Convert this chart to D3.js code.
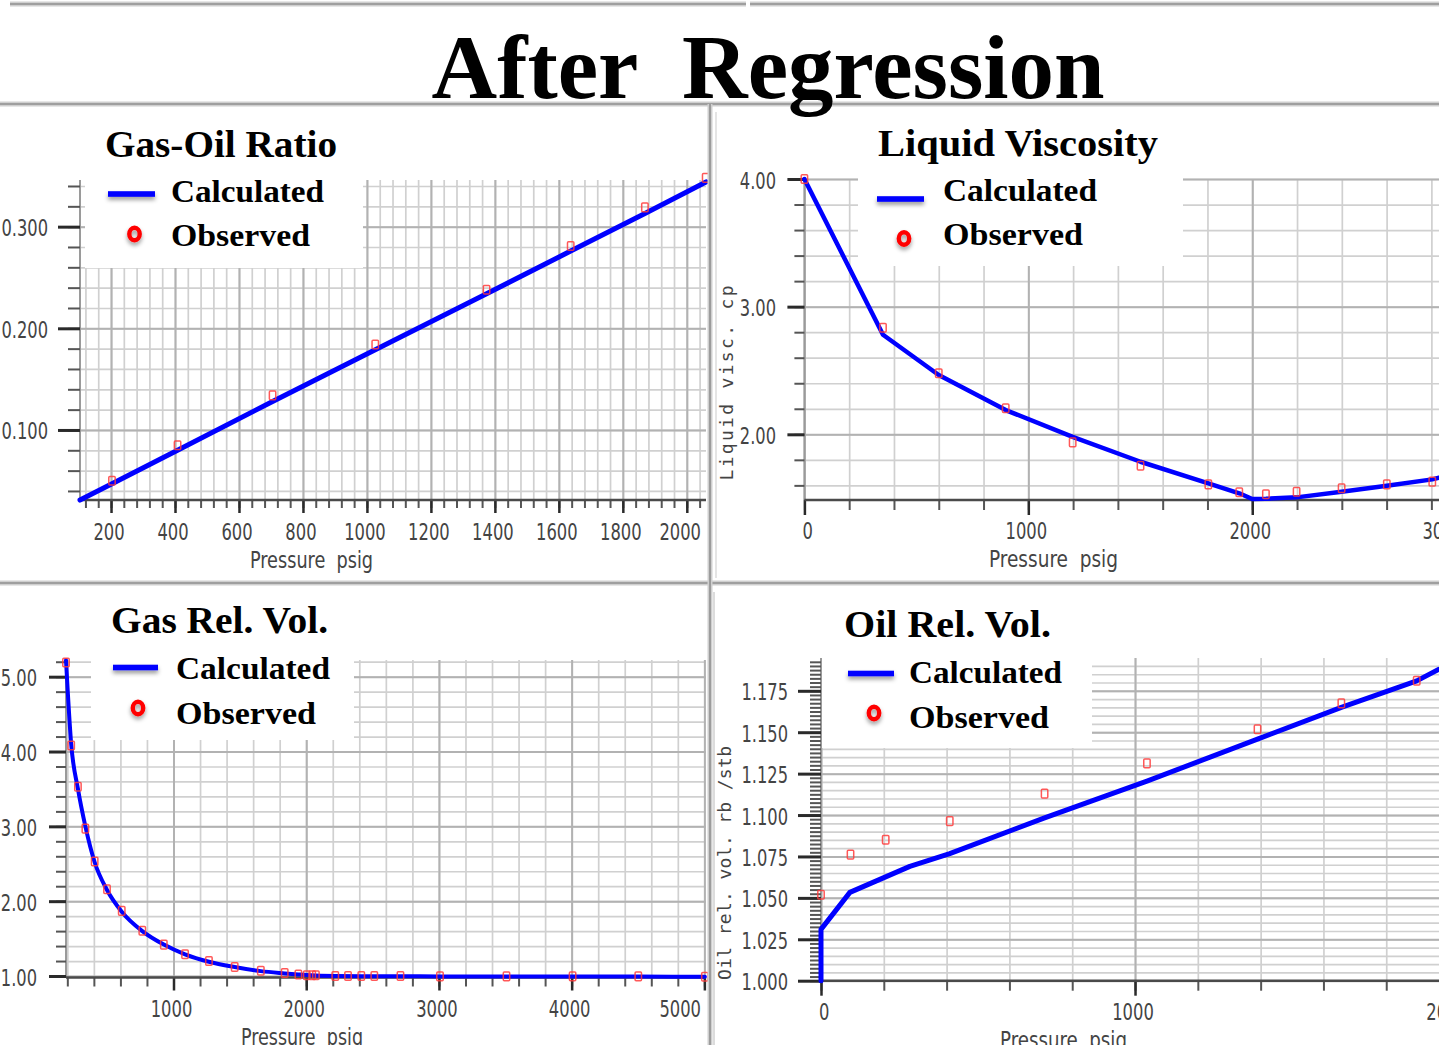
<!DOCTYPE html>
<html>
<head>
<meta charset="utf-8">
<script src="https://cdn.jsdelivr.net/npm/d3@7"></script>
<style>
  html, body { margin: 0; padding: 0; background: #fff; }
  svg { display: block; }
</style>
</head>
<body>
<svg id="chart" width="1439" height="1045"></svg>
<script>
// ---------- Gas-oil ratio vs pressure ----------
const gorObsPressure  = [203, 408, 705, 1026, 1374, 1637, 1869, 2059];
const gorObserved     = [0.050, 0.085, 0.134, 0.184, 0.238, 0.281, 0.319, 0.348];
const gorCalcPressure = [103, 203, 408, 705, 1026, 1374, 1637, 1869, 2060];
const gorCalculated   = [0.031, 0.047, 0.080, 0.128, 0.179, 0.234, 0.276, 0.313, 0.344];
const gorXTicks = [200, 400, 600, 800, 1000, 1200, 1400, 1600, 1800, 2000];
const gorYTicks = [0.1, 0.2, 0.3];

// ---------- Liquid viscosity vs pressure ----------
const viscObsPressure  = [0, 351, 600, 899, 1198, 1501, 1804, 1942, 2061, 2198, 2399, 2601, 2804];
const viscObserved     = [4.00, 2.835, 2.478, 2.204, 1.937, 1.754, 1.608, 1.546, 1.530, 1.550, 1.577, 1.608, 1.629];
const viscCalcPressure = [0, 351, 600, 899, 1198, 1501, 1804, 1942, 2000, 2061, 2198, 2399, 2601, 2804, 2834];
const viscCalculated   = [4.00, 2.78, 2.465, 2.19, 1.98, 1.785, 1.616, 1.538, 1.493, 1.495, 1.506, 1.55, 1.597, 1.647, 1.66];
const viscXTicks = [0, 1000, 2000, 3000];
const viscYTicks = [2, 3, 4];

// ---------- Gas relative volume vs pressure ----------
const gasObsPressure = [190, 229, 280, 336, 406, 499, 610, 765, 927, 1087, 1267, 1461, 1658, 1838, 1941, 2004, 2045, 2073, 2219, 2315, 2415, 2513, 2710, 3008, 3509, 4007, 4502, 5004];
const gasObserved    = [5.19, 4.08, 3.53, 2.97, 2.53, 2.16, 1.87, 1.605, 1.42, 1.29, 1.20, 1.12, 1.07, 1.04, 1.02, 1.01, 1.01, 1.01, 1.00, 1.00, 1.00, 1.00, 1.00, 0.995, 0.995, 0.995, 0.995, 0.99];
const gasCalcPressure = [190, 229, 280, 336, 406, 499, 610, 765, 927, 1087, 1267, 1461, 1658, 1838, 1941, 2004, 2073, 2219, 2415, 2710, 3008, 3509, 4007, 4502, 5004];
const gasCalculated   = [5.22, 4.10, 3.50, 3.00, 2.52, 2.15, 1.86, 1.60, 1.42, 1.29, 1.19, 1.12, 1.065, 1.035, 1.02, 1.012, 1.006, 1.0, 0.998, 0.996, 0.995, 0.994, 0.993, 0.992, 0.99];
const gasXTicks = [1000, 2000, 3000, 4000, 5000];
const gasYTicks = [1, 2, 3, 4, 5];

// ---------- Oil relative volume vs pressure ----------
const oilObsPressure  = [0, 94, 206, 410, 712, 1038, 1390, 1657, 1897];
const oilObserved     = [1.0519, 1.0761, 1.0851, 1.0963, 1.1129, 1.1312, 1.1518, 1.1674, 1.1811];
const oilCalcPressure = [0, 0, 92, 283, 410, 712, 1038, 1390, 1657, 1897, 1968];
const oilCalculated   = [1.000, 1.031, 1.0533, 1.069, 1.0767, 1.0983, 1.1205, 1.1458, 1.165, 1.181, 1.188];
const oilXTicks = [0, 1000, 2000];
const oilYTicks = [1.000, 1.025, 1.050, 1.075, 1.100, 1.125, 1.150, 1.175];

const legendLabels = ["Calculated", "Observed"];

// ---------- drawing ----------
const W = 1439, H = 1045;
const svg = d3.select("#chart");
const serif  = '"Liberation Serif", "Times New Roman", serif';
const narrow = '"DejaVu Sans Condensed", "DejaVu Sans", sans-serif';
const mono   = '"DejaVu Sans Mono", "Liberation Mono", monospace';
const axisInk = "#4a4a4a";

// width of a tick label in the condensed axis face
const labelWidth = s => [...s].reduce((w, c) => w + (c === "." ? 5 : 10.4), 0);

const defs = svg.append("defs");
const shadow = defs.append("filter").attr("id", "softShadow")
  .attr("filterUnits", "userSpaceOnUse")
  .attr("x", 0).attr("y", 0).attr("width", W).attr("height", H);
shadow.append("feDropShadow").attr("dx", 0).attr("dy", 3).attr("stdDeviation", 2)
  .attr("flood-color", "#000").attr("flood-opacity", 0.4);

svg.append("rect").attr("width", W).attr("height", H).attr("fill", "#fff");

function steps(domain, step) {
  const lo = Math.ceil(domain[0] / step - 1e-9), hi = Math.floor(domain[1] / step + 1e-9);
  return d3.range(lo, hi + 1).map(i => +(i * step).toFixed(6));
}

function drawPanel(p) {
  const g = svg.append("g");
  const x = d3.scaleLinear().domain(p.xDomain).range(p.xRange);
  const y = d3.scaleLinear().domain(p.yDomain).range(p.yRange);
  const [xl, xr] = p.xRange;
  const [yb, yt] = p.yRange;

  const layer = (axisFn, scale, vals, size, color, width, transform) => {
    const a = g.append("g").attr("transform", transform)
      .call(axisFn(scale).tickValues(vals).tickSize(size).tickFormat(""));
    a.select(".domain").remove();
    a.selectAll("line").attr("stroke", color).attr("stroke-width", width);
  };

  // grid: minor then major
  layer(d3.axisBottom, x, steps(p.xDomain, p.xGrid), -(yb - yt), "#d0d0d0", 1.7, `translate(0,${yb})`);
  layer(d3.axisLeft, y, steps(p.yDomain, p.yGrid), -(xr - xl), "#d0d0d0", 1.7, `translate(${xl},0)`);
  layer(d3.axisBottom, x, steps(p.xDomain, p.xGridMajor), -(yb - yt), "#b2b2b2", 2, `translate(0,${yb})`);
  layer(d3.axisLeft, y, steps(p.yDomain, p.yGridMajor), -(xr - xl), "#b2b2b2", 2, `translate(${xl},0)`);

  // y axis line and tick marks
  g.append("line").attr("x1", xl).attr("x2", xl).attr("y1", yt).attr("y2", yb)
    .attr("stroke", "#9a9a9a").attr("stroke-width", 2);
  layer(d3.axisLeft, y, steps(p.yDomain, p.yTickMinor), p.yTickLen[0], "#555", 2, `translate(${xl},0)`);
  layer(d3.axisLeft, y, p.yTicks.filter(v => v >= p.yDomain[0] - 1e-9 && v <= p.yDomain[1] + 1e-9),
        p.yTickLen[1], "#2a2a2a", 3, `translate(${xl},0)`);
  layer(d3.axisBottom, x, steps(p.xDomain, p.xTickMinor), p.xTickLen[0], "#555", 2, `translate(0,${yb})`);
  layer(d3.axisBottom, x, p.xTicks.filter(v => v >= p.xDomain[0] && v <= p.xDomain[1]),
        p.xTickLen[1], "#2a2a2a", 2.5, `translate(0,${yb})`);

  // x axis line
  g.append("line").attr("x1", xl).attr("x2", xr).attr("y1", yb).attr("y2", yb)
    .attr("stroke", axisInk).attr("stroke-width", 2.6);

  // tick labels
  const fmtY = d3.format(p.yFormat);
  g.append("g").selectAll("text").data(p.yTicks).join("text")
    .attr("x", p.yLabelRight).attr("y", d => y(d) + 3)
    .attr("text-anchor", "end").attr("dominant-baseline", "middle")
    .attr("font-family", narrow).attr("font-size", 23).attr("fill", "#444")
    .attr("textLength", d => labelWidth(fmtY(d))).attr("lengthAdjust", "spacingAndGlyphs")
    .text(d => fmtY(d));
  g.append("g").selectAll("text").data(p.xTicks).join("text")
    .attr("x", d => {
      let cx = x(d) - 2;
      const half = labelWidth(String(d)) / 2;
      if (cx + half > p.labelEdge) cx = p.labelEdge - half;
      if (cx - half < xl - 2) cx = xl + half - 2;
      return cx;
    })
    .attr("y", p.xLabelBaseline)
    .attr("text-anchor", "middle")
    .attr("font-family", narrow).attr("font-size", 23).attr("fill", "#444")
    .attr("textLength", d => labelWidth(String(d))).attr("lengthAdjust", "spacingAndGlyphs")
    .text(d => String(d));

  // axis titles
  g.append("text").attr("x", p.xTitle[0]).attr("y", p.xTitle[1])
    .attr("font-family", narrow).attr("font-size", 23).attr("fill", "#444")
    .attr("textLength", p.xTitle[2]).attr("lengthAdjust", "spacingAndGlyphs")
    .style("white-space", "pre").text("Pressure  psig");
  if (p.yTitle) {
    g.append("text")
      .attr("transform", `translate(${p.yTitle.x},${p.yTitle.y}) rotate(-90)`)
      .attr("text-anchor", "middle").attr("dominant-baseline", "middle")
      .attr("font-family", mono).attr("font-size", 18).attr("fill", "#444")
      .attr("textLength", p.yTitle.len).attr("lengthAdjust", "spacing")
      .text(p.yTitle.text);
  }

  // calculated curve
  const clipId = "clip" + p.id;
  defs.append("clipPath").attr("id", clipId).append("rect")
    .attr("x", xl - 4).attr("y", yt - 6).attr("width", xr - xl + 8).attr("height", yb - yt + 10);
  const calc = p.calcX.map((v, i) => [v, p.calcY[i]]);
  g.append("path").datum(calc)
    .attr("clip-path", `url(#${clipId})`)
    .attr("d", d3.line().x(d => x(d[0])).y(d => y(d[1])).curve(p.curve))
    .attr("fill", "none").attr("stroke", "#0000ff").attr("stroke-width", p.lineWidth)
    .attr("stroke-linejoin", "round").attr("stroke-linecap", "round");

  // observed points
  const obs = p.obsX.map((v, i) => [v, p.obsY[i]]);
  g.append("g").selectAll("rect").data(obs).join("rect")
    .attr("x", d => x(d[0]) - 3.2).attr("y", d => y(d[1]) - 4.3)
    .attr("width", 6.4).attr("height", 8.6).attr("rx", 1)
    .attr("fill", "none").attr("stroke", "#ff3b3b").attr("stroke-width", 1.5)
    .attr("opacity", 0.85);

  // legend block
  const L = p.legend;
  g.append("rect").attr("x", L.box[0]).attr("y", L.box[1])
    .attr("width", L.box[2] - L.box[0]).attr("height", L.box[3] - L.box[1]).attr("fill", "#fff");
  g.append("rect").attr("x", L.line[0]).attr("y", L.line[2] - 2.8)
    .attr("width", L.line[1] - L.line[0]).attr("height", 5.6)
    .attr("fill", "#0000ff").attr("filter", "url(#softShadow)");
  g.append("ellipse").attr("cx", L.ring[0]).attr("cy", L.ring[1]).attr("rx", 5.2).attr("ry", 6.3)
    .attr("fill", "none").attr("stroke", "#ff0000").attr("stroke-width", 4.4)
    .attr("filter", "url(#softShadow)");
  g.append("g").selectAll("text").data(legendLabels).join("text")
    .attr("x", L.textX).attr("y", (d, i) => L.textY[i])
    .attr("font-family", serif).attr("font-weight", "bold").attr("font-size", 32)
    .attr("textLength", (d, i) => L.textLen[i]).attr("lengthAdjust", "spacingAndGlyphs")
    .attr("fill", "#000").text(d => d);
  g.append("text").attr("x", L.title[0]).attr("y", L.title[1])
    .attr("font-family", serif).attr("font-weight", "bold").attr("font-size", 38)
    .attr("textLength", L.title[2]).attr("lengthAdjust", "spacingAndGlyphs")
    .attr("fill", "#000").text(p.title);
}

drawPanel({
  id: 1, title: "Gas-Oil Ratio",
  xDomain: [103, 2060], xRange: [80, 706], yDomain: [0.0311, 0.3459], yRange: [500, 180],
  xGrid: 40, xGridMajor: 200, yGrid: 0.02, yGridMajor: 0.1,
  xTickMinor: 40, xTickLen: [8, 13], yTickMinor: 0.02, yTickLen: [12, 22],
  xTicks: gorXTicks, yTicks: gorYTicks, yFormat: ".3f",
  yLabelRight: 48, xLabelBaseline: 540, labelEdge: 701,
  xTitle: [250, 568, 123],
  calcX: gorCalcPressure, calcY: gorCalculated, obsX: gorObsPressure, obsY: gorObserved,
  curve: d3.curveLinear, lineWidth: 5,
  legend: { box: [85, 178, 363, 268], line: [108, 155, 194], ring: [134.5, 234],
            textX: 171, textY: [202, 246], textLen: [153, 139], title: [105, 157, 232] }
});

drawPanel({
  id: 2, title: "Liquid Viscosity",
  xDomain: [0, 2834], xRange: [804.4, 1439], yDomain: [1.4854, 4.0], yRange: [500, 179],
  xGrid: 200, xGridMajor: 1000, yGrid: 0.2, yGridMajor: 1.0,
  xTickMinor: 200, xTickLen: [10, 15], yTickMinor: 0.2, yTickLen: [10, 17],
  xTicks: viscXTicks, yTicks: viscYTicks, yFormat: ".2f",
  yLabelRight: 776, xLabelBaseline: 539, labelEdge: 1464,
  xTitle: [989, 567, 129],
  yTitle: { x: 728, y: 383, len: 195, text: "Liquid visc. cp" },
  calcX: viscCalcPressure, calcY: viscCalculated, obsX: viscObsPressure, obsY: viscObserved,
  curve: d3.curveLinear, lineWidth: 4.5,
  legend: { box: [858, 177, 1183, 266], line: [877, 924, 199], ring: [904, 238.5],
            textX: 943, textY: [201, 245], textLen: [154, 140], title: [878, 156, 280] }
});

drawPanel({
  id: 3, title: "Gas Rel. Vol.",
  xDomain: [190, 5010], xRange: [66, 705.7], yDomain: [0.98, 5.223], yRange: [977.5, 660],
  xGrid: 200, xGridMajor: 1000, yGrid: 0.2, yGridMajor: 1.0,
  xTickMinor: 200, xTickLen: [9, 13], yTickMinor: 0.2, yTickLen: [10, 17],
  xTicks: gasXTicks, yTicks: gasYTicks, yFormat: ".2f",
  yLabelRight: 37, xLabelBaseline: 1017, labelEdge: 701,
  xTitle: [241, 1045, 122],
  calcX: gasCalcPressure, calcY: gasCalculated, obsX: gasObsPressure, obsY: gasObserved,
  curve: d3.curveMonotoneX, lineWidth: 4,
  legend: { box: [91, 657, 354, 740], line: [113, 158, 667.5], ring: [138, 708],
            textX: 176, textY: [679, 724], textLen: [154, 140], title: [111, 633, 217] }
});

drawPanel({
  id: 4, title: "Oil Rel. Vol.",
  xDomain: [0, 1968], xRange: [821, 1439], yDomain: [1.0, 1.1948], yRange: [980.7, 658],
  xGrid: 200, xGridMajor: 1000, yGrid: 0.005, yGridMajor: 0.025,
  xTickMinor: 200, xTickLen: [10, 15], yTickMinor: 0.0025, yTickLen: [11, 23],
  xTicks: oilXTicks, yTicks: oilYTicks, yFormat: ".3f",
  yLabelRight: 788, xLabelBaseline: 1020, labelEdge: 1500,
  xTitle: [1000, 1048, 127],
  yTitle: { x: 726, y: 863, len: 234, text: "Oil rel. vol. rb /stb" },
  calcX: oilCalcPressure, calcY: oilCalculated, obsX: oilObsPressure, obsY: oilObserved,
  curve: d3.curveLinear, lineWidth: 5,
  legend: { box: [822, 657, 1092, 748], line: [848, 894, 673.5], ring: [874, 713],
            textX: 909, textY: [683, 728], textLen: [153, 140], title: [844, 637, 207] }
});

// ---------- panel frames ----------
const frame = svg.append("g");
function sep(x1, y1, x2, y2) {
  frame.append("line").attr("x1", x1).attr("y1", y1).attr("x2", x2).attr("y2", y2)
    .attr("stroke", "#cfcfcf").attr("stroke-width", 5);
  frame.append("line").attr("x1", x1).attr("y1", y1).attr("x2", x2).attr("y2", y2)
    .attr("stroke", "#8f8f8f").attr("stroke-width", 1.6);
}
sep(10, 4, 746, 4);
sep(750, 4, W, 4);
sep(0, 104, W, 104);
sep(0, 583, W, 583);
sep(710, 104, 710, H);
frame.append("line").attr("x1", 716).attr("x2", 716).attr("y1", 112).attr("y2", 578)
  .attr("stroke", "#dcdcdc").attr("stroke-width", 1.5);
frame.append("line").attr("x1", 714).attr("x2", 714).attr("y1", 592).attr("y2", H)
  .attr("stroke", "#d0d0d0").attr("stroke-width", 1.5);

// ---------- main heading ----------
svg.append("text").attr("x", 768).attr("y", 98)
  .attr("text-anchor", "middle")
  .attr("font-family", serif).attr("font-weight", "bold").attr("font-size", 90)
  .attr("textLength", 673).attr("lengthAdjust", "spacingAndGlyphs")
  .style("white-space", "pre")
  .attr("fill", "#000").text("After  Regression");
</script>
</body>
</html>
